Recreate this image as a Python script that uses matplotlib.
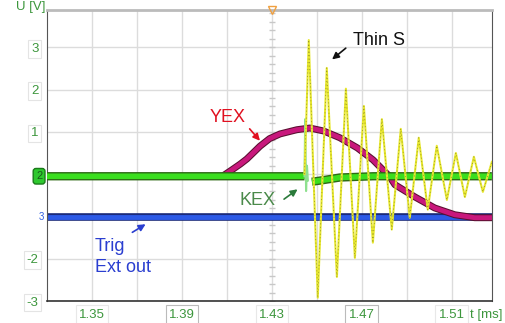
import matplotlib.pyplot as plt
import matplotlib.patheffects as pe
import numpy as np

plt.rcParams['font.family'] = ['Liberation Sans', 'DejaVu Sans']

# time axis in ms, voltage in V
trig_t = [1.33, 1.5278]
trig_v = [-1.01, -1.01]

kex_t = [1.33, 1.4445, np.nan, 1.4478, 1.4530, 1.4602, 1.4750, 1.5278]
kex_v = [-0.05, -0.05, np.nan, -0.18, -0.14, -0.08, -0.05, -0.05]
kex_spike_t = [1.4445, 1.4448, 1.4452, 1.4456, 1.4460]
kex_spike_v = [-0.05, 1.30, -0.40, 0.20, -0.15]

yex_t = [1.33, 1.4080, 1.4122, 1.4160, 1.4189, 1.4220, 1.4247, 1.4290, 1.4336,
         1.4411, 1.4469, 1.4530, 1.4602, 1.4680, 1.4749, 1.4824, 1.4847, 1.4936,
         1.5024, 1.5113, 1.5202, 1.5278]
yex_v = [-0.05, -0.05, 0.10, 0.24, 0.36, 0.52, 0.66, 0.84, 0.95,
         1.05, 1.09, 1.02, 0.86, 0.62, 0.34, -0.06, -0.25, -0.54,
         -0.80, -0.96, -1.03, -1.03]

thin_t = [1.4445, 1.4464, 1.4504, 1.4544, 1.4589, 1.4629, 1.4669, 1.4709, 1.4749,
          1.4789, 1.4833, 1.4873, 1.4913, 1.4953, 1.4993, 1.5033, 1.5078, 1.5118,
          1.5158, 1.5198, 1.5238, 1.5278]
thin_v = [0.0, 3.17, -2.92, 2.51, -2.43, 2.02, -1.98, 1.61, -1.62,
          1.30, -1.31, 1.07, -1.03, 0.86, -0.84, 0.67, -0.61, 0.50,
          -0.54, 0.41, -0.42, 0.29]

xticks = [1.35, 1.39, 1.43, 1.47, 1.51]
xgrid = [1.35, 1.37, 1.39, 1.41, 1.43, 1.45, 1.47, 1.49, 1.51]
yticks = [-3, -2, -1, 0, 1, 2, 3]
ylabels = ['-3', '-2', '', '', '1', '2', '3']

fig = plt.figure(figsize=(5.05, 3.23), dpi=100)
ax = fig.add_axes([0.093, 0.068, 0.881, 0.901])
ax.set_xlim(1.33, 1.5278)
ax.set_ylim(-3, 3.88)

for x in xgrid:
    ax.axvline(x, color='#dcdcdc', lw=1, zorder=0)
for y in yticks:
    ax.axhline(y, color='#dcdcdc', lw=1, zorder=0)
# small division marks on the trigger line
ax.plot([1.43] * 35, np.arange(-3, 3.9, 0.2), ls='none', marker='_', ms=4,
        color='#c8c8c8', zorder=0)
ax.plot([1.43], [3.88], marker='v', ms=6, mfc='none', mec='#f0a040', mew=1,
        clip_on=False, zorder=5)

blue = ax.plot(trig_t, trig_v, color='#2c5ae6', lw=3.5, zorder=2, solid_capstyle='butt')[0]
blue.set_path_effects([pe.Stroke(linewidth=5.5, foreground='#1a2a7a'), pe.Normal()])

green = ax.plot(kex_t, kex_v, color='#3ade1e', lw=4, zorder=3, solid_capstyle='butt')[0]
green.set_path_effects([pe.Stroke(linewidth=6, foreground='#2d6a14'), pe.Normal()])
ax.plot(kex_spike_t, kex_spike_v, color='#8ee08e', lw=1.5, zorder=3)

mag = ax.plot(yex_t, yex_v, color='#c8187c', lw=3.5, zorder=2.5)[0]
mag.set_path_effects([pe.Stroke(linewidth=5, foreground='#5a1030'), pe.Normal()])

ax.plot(thin_t, thin_v, color='#e8e830', lw=1.5, zorder=6)
ax.plot(thin_t, thin_v, color='#8a8a20', lw=0.5, dashes=(1.5, 3.5), zorder=6)

ax.set_xticks(xticks)
ax.set_xticklabels([])
ax.set_yticks(yticks)
ax.set_yticklabels(ylabels, color='#3c963c', fontsize=9.5)
ax.tick_params(length=0, pad=6)
for lab in ax.get_yticklabels():
    lab.set_bbox(dict(facecolor='white', edgecolor='#e4e4e4', lw=0.8, pad=2))

for i, x in enumerate(xticks):
    ax.text(x, -3.18, f'{x:.2f}', ha='center', va='top', fontsize=9.5, color='#3c963c',
            bbox=dict(facecolor='white', edgecolor='#bbbbbb' if i % 2 else '#e8e8e8',
                      lw=0.8, pad=2.5), clip_on=False)
ax.text(1.5180, -3.18, 't [ms]', ha='left', va='top', fontsize=9.5, color='#3c963c',
        clip_on=False)
ax.text(1.3295, 3.95, 'U [V]', ha='right', va='center', fontsize=9.5, color='#3c963c',
        clip_on=False)

# channel markers
ax.text(1.3265, -0.05, '2', ha='center', va='center', fontsize=8, color='#1a5a1a',
        bbox=dict(boxstyle='round,pad=0.25', facecolor='#2ec82e', edgecolor='#1a7a1a'),
        clip_on=False)
ax.text(1.3275, -1.01, '3', ha='center', va='center', fontsize=7, color='#3060e0',
        clip_on=False)

for s in ['left', 'right']:
    ax.spines[s].set_color('#555555')
ax.spines['bottom'].set_color('#333333')
ax.spines['bottom'].set_linewidth(1.2)
ax.spines['top'].set_color('#bbbbbb')
ax.spines['top'].set_linewidth(2)

ax.text(1.4104, 1.35, 'YEX', ha='center', va='center', fontsize=13, color='#e01020')
ax.annotate('', xy=(1.4255, 0.74), xytext=(1.4193, 1.12),
            arrowprops=dict(arrowstyle='-|>', color='#e01020', lw=1.2, mutation_scale=10))
ax.text(1.4238, -0.63, 'KEX', ha='center', va='center', fontsize=13, color='#4a8a4a')
ax.annotate('', xy=(1.4424, -0.32), xytext=(1.4344, -0.63),
            arrowprops=dict(arrowstyle='-|>', color='#2a7a3a', lw=1.2, mutation_scale=10))
ax.text(1.4660, 3.17, 'Thin S', ha='left', va='center', fontsize=13, color='#111111')
ax.annotate('', xy=(1.4558, 2.67), xytext=(1.4638, 3.02),
            arrowprops=dict(arrowstyle='-|>', color='#111111', lw=1.2, mutation_scale=10))
ax.text(1.3513, -1.96, 'Trig\nExt out', ha='left', va='center', fontsize=13,
        color='#2a3ed0', linespacing=1.35)
ax.annotate('', xy=(1.3749, -1.15), xytext=(1.3669, -1.41),
            arrowprops=dict(arrowstyle='-|>', color='#2a3ed0', lw=1.2, mutation_scale=10))

fig.savefig('out.png', dpi=100)
